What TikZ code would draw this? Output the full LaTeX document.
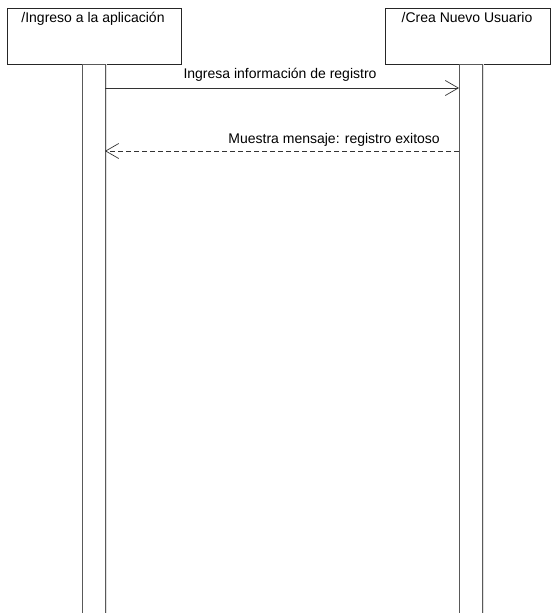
\documentclass[tikz,border=0pt]{standalone}
\usepackage{fontspec}
\setmainfont{Liberation Sans}
\usetikzlibrary{arrows.meta}
\begin{document}
\begin{tikzpicture}[x=1pt,y=-1pt,
  lifebox/.style={draw=black!85,line width=0.8pt,fill=white},
  actbar/.style={draw=black!65,line width=1pt,fill=white},
  msgtext/.style={font=\fontsize{14}{16}\selectfont,inner sep=0pt},
  msg/.style={draw=black!80,line width=0.7pt,-{Straight Barb[length=13pt,width=15pt,line width=0.7pt]}}]
\useasboundingbox (0,0) rectangle (551,613);
% lifeline heads
\node[lifebox,minimum width=174pt,minimum height=56pt,anchor=north west] (ingreso) at (7,8) {};
\node[anchor=base,msgtext] at (93,23) {/Ingreso a la aplicación};
\node[lifebox,minimum width=165pt,minimum height=56pt,anchor=north west] (crea) at (385,8) {};
\node[anchor=base,msgtext] at (467,23) {/Crea Nuevo Usuario};
% activation bars
\draw[draw=black!12,line width=1pt] (106.5,64) -- (106.5,613);
\draw[draw=black!12,line width=1pt] (483.5,64) -- (483.5,613);
\path[actbar] (82,64) rectangle (105,614);
\path[actbar] (459,64) rectangle (482,614);
\coordinate (a1) at (105,88);
\coordinate (b1) at (459,88);
\coordinate (a2) at (105,151);
\coordinate (b2) at (459,151);
% messages
\draw[msg] (a1) -- (b1);
\node[msgtext,anchor=base] at (280,78) {Ingresa información de registro};
\draw[msg,dashed,dash pattern=on 5pt off 3pt] (b2) -- (a2);
\node[msgtext,anchor=base east] at (440,143) {Muestra mensaje: registro exitoso};
\end{tikzpicture}
\end{document}
